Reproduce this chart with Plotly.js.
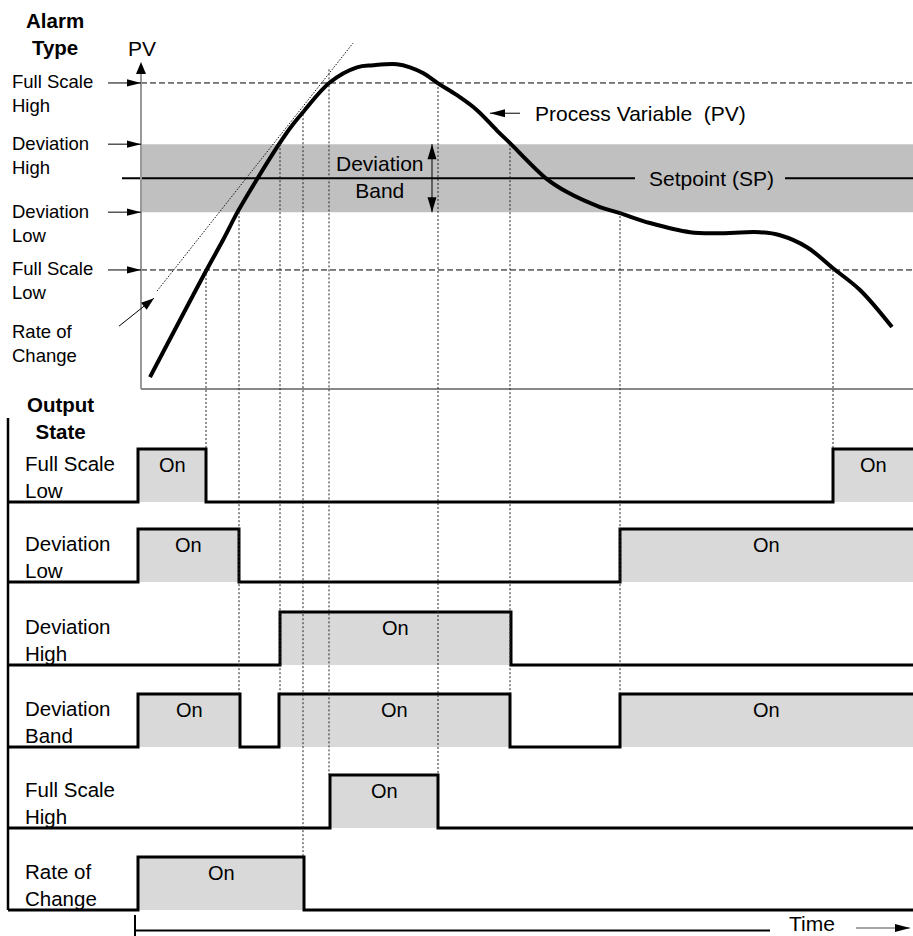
<!DOCTYPE html>
<html>
<head>
<meta charset="utf-8">
<script src="https://cdn.plot.ly/plotly-3.0.1.min.js"></script>
<style>html,body{margin:0;padding:0;background:#fff;}#chart{width:913px;height:936px;}</style>
</head>
<body>
<div id="chart"></div>
<script>
// ---------------- DATA ----------------
// Alarm levels (PV units)
const FSH = 78, DH = 60, SP = 50, DL = 40, FSL = 23;
const levelLabels = ['Full Scale<br>High', 'Deviation<br>High', 'Deviation<br>Low', 'Full Scale<br>Low'];
const levelValues = [FSH, DH, DL, FSL];

// Process variable curve (time, PV)
const pvTime  = [150, 206, 223, 238, 257, 279, 290, 303, 330, 357, 373, 397, 410, 423, 438, 457, 477, 497, 510, 547, 567, 600, 620, 650, 690, 717, 760, 780, 807, 833, 860, 892];
const pvValue = [-8.5, 22.7, 31.8, 40.3, 49.7, 60.0, 64.7, 69.4, 78.2, 82.6, 83.2, 83.5, 82.6, 80.9, 77.9, 74.4, 70.0, 64.0, 60.3, 49.7, 45.9, 41.5, 39.7, 36.8, 34.1, 33.8, 34.1, 33.2, 29.7, 23.5, 17.1, 6.2];

// Rate-of-change tangent (time, PV)
const rocTime  = [157, 353];
const rocValue = [16.8, 89.7];

// Output states
const rowLabels = ['Full Scale<br>Low', 'Deviation<br>Low', 'Deviation<br>High', 'Deviation<br>Band', 'Full Scale<br>High', 'Rate of<br>Change'];
const onStart = [[138, 833], [138, 620], [280], [138, 279, 620], [330], [138]];
const onEnd   = [[206, 913], [239, 913], [511], [240, 510, 913], [438], [304]];

// Crossing events (time, PV where they start, output row where they end)
const crossTime = [206, 239, 280, 303, 329, 438, 510, 620, 833];
const crossPV   = [FSL, DL, DH, 70, 82, FSH, DH, DL, FSL];
const crossRow  = [0, 3, 3, 5, 4, 4, 3, 3, 0];

// ---------------- LAYOUT CONSTANTS ----------------
const W = 913, H = 936;
const FONT = 'Arial, "Liberation Sans", sans-serif';
const T_MIN = 0, T_MAX = 913;
const AXIS_T = 141;        // time position of PV axis
const ROW_T0 = 8;          // left edge of output rows
const PV_RANGE = [-14, 102.4];
const PX_PER_PV = 3.4;
const PV_AXIS_FLOOR = -12, PV_AXIS_TOP = 84.2;
const rowBasePx = [502, 582, 665, 747, 828, 910];
const ROW_H = 53;
const ROW_RANGE = [-0.2, 1.2];

const topDomPx = (PV_RANGE[1] - PV_RANGE[0]) * PX_PER_PV;
const topDomain = [1 - topDomPx / H, 1];
function rowDomain(i) {
  const b = rowBasePx[i];
  return [1 - (b - ROW_RANGE[0] * ROW_H) / H, 1 - (b - ROW_RANGE[1] * ROW_H) / H];
}
function pvPaper(v) {
  return topDomain[0] + (v - PV_RANGE[0]) / (PV_RANGE[1] - PV_RANGE[0]) * (topDomain[1] - topDomain[0]);
}
function rowPaper(i, s) {
  const d = rowDomain(i);
  return d[0] + (s - ROW_RANGE[0]) / (ROW_RANGE[1] - ROW_RANGE[0]) * (d[1] - d[0]);
}
const px2paperY = p => 1 - p / H;
const px2paperX = p => p / W;

// ---------------- HELPERS ----------------
function arrowHead(x, y, xref, yref, dirx, diry, len, hw, color) {
  const n = Math.hypot(dirx, diry), ux = dirx / n, uy = diry / n;
  const bx = -len * ux, by = -len * uy, qx = -uy * hw, qy = ux * hw;
  const pts = [[0, 0], [bx + qx, by + qy], [bx - qx, by - qy]];
  const path = 'M' + pts.map(p => p[0].toFixed(2) + ',' + (-p[1]).toFixed(2)).join('L') + 'Z';
  return {type: 'path', xref: xref, yref: yref, xsizemode: 'pixel', ysizemode: 'pixel',
          xanchor: x, yanchor: y, path: path, fillcolor: color || '#000',
          line: {width: 0}, layer: 'above'};
}
function shaft(x, y, xref, yref, tdx, tdy, color, width) {
  return {type: 'line', xref: xref, yref: yref, xsizemode: 'pixel', ysizemode: 'pixel',
          xanchor: x, yanchor: y, x0: 0, y0: 0, x1: tdx, y1: -tdy,
          line: {color: color || '#000', width: width || 1}, layer: 'above'};
}
function txt(text, x, y, xref, yref, o) {
  o = o || {};
  return Object.assign({text: text, x: x, y: y, xref: xref, yref: yref, showarrow: false,
    xanchor: 'center', yanchor: 'middle', align: 'center',
    font: {family: FONT, size: 21, color: '#000'}}, o);
}

// ---------------- TRACES ----------------
const traces = [];
traces.push({x: rocTime, y: rocValue, xaxis: 'x', yaxis: 'y', mode: 'lines', hoverinfo: 'skip',
  line: {color: '#111', width: 1, dash: '1.5px,1.5px'}});
traces.push({x: pvTime, y: pvValue, xaxis: 'x', yaxis: 'y', mode: 'lines', hoverinfo: 'skip',
  line: {color: '#000', width: 4, shape: 'spline', smoothing: 1}});

const annotations = [];
const shapes = [];

rowLabels.forEach((lab, i) => {
  const xs = [ROW_T0], ys = [0];
  let open = false;
  onStart[i].forEach((s, k) => {
    const e = onEnd[i][k];
    xs.push(s); ys.push(1);
    if (e >= T_MAX) { xs.push(T_MAX); ys.push(1); open = true; }
    else { xs.push(e); ys.push(0); }
    annotations.push(txt('On', (s + Math.min(e, T_MAX)) / 2, 0.7, 'x', 'y' + (i + 2), {font: {family: FONT, size: 20, color: '#000'}}));
  });
  if (!open) { xs.push(T_MAX); ys.push(0); }
  traces.push({x: xs, y: ys, xaxis: 'x', yaxis: 'y' + (i + 2), mode: 'lines', hoverinfo: 'skip',
    line: {color: '#000', width: 3, shape: 'hv'}, fill: 'tozeroy', fillcolor: '#d9d9d9'});
  annotations.push(txt(lab, px2paperX(23), 0.47, 'paper', 'y' + (i + 2),
    {xanchor: 'left', align: 'left', font: {family: FONT, size: 20.5, color: '#000'}}));
});

// ---------------- SHAPES (top panel) ----------------
// deviation band
shapes.push({type: 'rect', xref: 'x', yref: 'y', x0: AXIS_T, x1: T_MAX, y0: DL, y1: DH,
  fillcolor: '#c0c0c0', line: {width: 0}, layer: 'below'});
// full scale dashed lines
[FSH, FSL].forEach(v => shapes.push({type: 'line', xref: 'x', yref: 'y', x0: AXIS_T, x1: T_MAX, y0: v, y1: v,
  line: {color: '#000', width: 1, dash: '6px,3px'}, layer: 'below'}));
// setpoint line (gap for label)
shapes.push({type: 'line', xref: 'x', yref: 'y', x0: 122, x1: 635, y0: SP, y1: SP, line: {color: '#000', width: 2}, layer: 'below'});
shapes.push({type: 'line', xref: 'x', yref: 'y', x0: 785, x1: T_MAX, y0: SP, y1: SP, line: {color: '#000', width: 2}, layer: 'below'});
// PV axes (grey)
shapes.push({type: 'line', xref: 'x', yref: 'y', x0: AXIS_T, x1: AXIS_T, y0: PV_AXIS_FLOOR, y1: PV_AXIS_TOP - 3,
  line: {color: '#999', width: 2}, layer: 'below'});
shapes.push({type: 'line', xref: 'x', yref: 'y', x0: AXIS_T, x1: T_MAX, y0: PV_AXIS_FLOOR, y1: PV_AXIS_FLOOR,
  line: {color: '#888', width: 2}, layer: 'below'});
shapes.push(arrowHead(AXIS_T, PV_AXIS_TOP, 'x', 'y', 0, -1, 12, 5));

// level arrows
levelValues.forEach(v => {
  shapes.push(shaft(AXIS_T, v, 'x', 'y', -33, 0, '#000', 1));
  shapes.push(arrowHead(AXIS_T, v, 'x', 'y', 1, 0, 14, 3.6));
});
// rate of change arrow
shapes.push(shaft(154, 14.7, 'x', 'y', -35, 28, '#000', 1));
shapes.push(arrowHead(154, 14.7, 'x', 'y', 35, -28, 13, 4.5));
// deviation band double arrow
shapes.push({type: 'line', xref: 'x', yref: 'y', x0: 432, x1: 432, y0: DL, y1: DH, line: {color: '#000', width: 1}, layer: 'above'});
shapes.push(arrowHead(432, DH, 'x', 'y', 0, -1, 15, 4.5));
shapes.push(arrowHead(432, DL, 'x', 'y', 0, 1, 15, 4.5));
// process variable pointer
shapes.push(shaft(490, 69.1, 'x', 'y', 30, 0, '#000', 1));
shapes.push(arrowHead(490, 69.1, 'x', 'y', -1, 0, 15, 4));

// crossing dotted lines
crossTime.forEach((t, k) => {
  shapes.push({type: 'line', xref: 'x', yref: 'paper', x0: t, x1: t,
    y0: pvPaper(crossPV[k]), y1: rowPaper(crossRow[k], 1),
    line: {color: '#222', width: 1, dash: '2px,2px'}, layer: 'above'});
});

// output-state frame line
shapes.push({type: 'line', xref: 'x', yref: 'paper', x0: ROW_T0, x1: ROW_T0, y0: px2paperY(418), y1: rowPaper(5, 0),
  line: {color: '#000', width: 2.5}, layer: 'above'});

// time axis
shapes.push({type: 'line', xref: 'x', yref: 'paper', x0: 135, x1: 135, y0: px2paperY(915), y1: 0,
  line: {color: '#000', width: 2}});
shapes.push({type: 'line', xref: 'x', yref: 'paper', x0: 135, x1: 770, y0: px2paperY(930.5), y1: px2paperY(930.5),
  line: {color: '#000', width: 2}});
shapes.push(shaft(910, px2paperY(928), 'x', 'paper', -54, 0, '#888', 1.5));
shapes.push(arrowHead(910, px2paperY(928), 'x', 'paper', 1, 0, 15, 4));

// ---------------- TEXT ----------------
annotations.push(txt('<b>Alarm<br>Type</b>', px2paperX(55), px2paperY(34.5), 'paper', 'paper', {font: {family: FONT, size: 20.5, color: '#000'}}));
annotations.push(txt('PV', AXIS_T + 1, px2paperY(48), 'x', 'paper'));
levelLabels.forEach((lab, i) => {
  annotations.push(txt(lab, px2paperX(10), levelValues[i], 'paper', 'y',
    {xanchor: 'left', align: 'left', yshift: -11, font: {family: FONT, size: 18.5, color: '#000'}}));
});
annotations.push(txt('Rate of<br>Change', px2paperX(10), px2paperY(343), 'paper', 'paper',
  {xanchor: 'left', align: 'left', font: {family: FONT, size: 18.5, color: '#000'}}));
annotations.push(txt('Process Variable  (PV)', 533, 69.1, 'x', 'y', {xanchor: 'left'}));
annotations.push(txt('Setpoint (SP)', 711, SP, 'x', 'y'));
annotations.push(txt('Deviation<br>Band', 380, SP, 'x', 'y', {yshift: 1}));
annotations.push(txt('<b>Output<br>State</b>', px2paperX(60), px2paperY(418), 'paper', 'paper', {font: {family: FONT, size: 20.5, color: '#000'}}));
annotations.push(txt('Time', 812, px2paperY(923), 'x', 'paper'));

// ---------------- LAYOUT ----------------
const layout = {
  width: W, height: H, margin: {l: 0, r: 0, t: 0, b: 0},
  paper_bgcolor: '#fff', plot_bgcolor: 'rgba(0,0,0,0)', showlegend: false,
  xaxis: {range: [T_MIN, T_MAX], domain: [0, 1], visible: false, fixedrange: true},
  yaxis: {range: PV_RANGE, domain: topDomain, visible: false, fixedrange: true},
  shapes: shapes, annotations: annotations
};
rowLabels.forEach((l, i) => {
  layout['yaxis' + (i + 2)] = {range: ROW_RANGE, domain: rowDomain(i), anchor: 'x', visible: false, fixedrange: true};
});

Plotly.newPlot('chart', traces, layout, {staticPlot: true});
</script>
</body>
</html>
